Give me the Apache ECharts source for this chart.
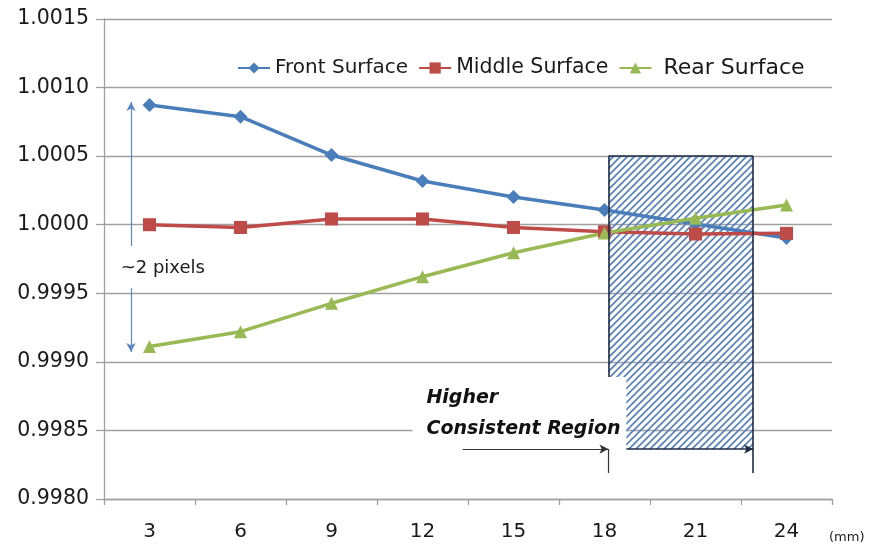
<!DOCTYPE html>
<html>
<head>
<meta charset="utf-8">
<script src="https://cdn.jsdelivr.net/npm/echarts@6/dist/echarts.min.js"></script>
<style>html,body{margin:0;padding:0;background:#fff}#c{width:878px;height:550px}</style>
</head>
<body>
<div id="c"></div>
<script>
// ---- data ----
const categories = ['3', '6', '9', '12', '15', '18', '21', '24'];
const frontSurface  = [1.000873, 1.000788, 1.000508, 1.000319, 1.000202, 1.000107, 1.000005, 0.999903];
const middleSurface = [1.000000, 0.999980, 1.000042, 1.000042, 0.999980, 0.999949, 0.999932, 0.999937];
const rearSurface   = [0.999112, 0.999220, 0.999427, 0.999621, 0.999796, 0.999940, 1.000047, 1.000144];
const yTicks = [0.9980, 0.9985, 0.9990, 0.9995, 1.0000, 1.0005, 1.0010, 1.0015];
// annotation positions in data units (hidden value x-axis 1.5..25.5)
const regionX = [18.13, 22.9];
const regionNotchX = 18.72;
const regionTop = 1.0005;
const regionLeftEnd = 0.99889;
const regionBottom = 0.998364;
const regionTickEnd = 0.99819;
const arrowStartX = 13.32;
const textBoxX = [11.67, 18.72];
const textBoxY = [0.998350, 0.99889];
const spanArrowX = 2.39;
const spanUpper = [0.999845, 1.000895];
const spanLower = [0.999538, 0.999072];

const FONT = 'DejaVu Sans';

// hatch pattern
const tile = document.createElement('canvas');
tile.width = 7; tile.height = 7;
const tc = tile.getContext('2d');
tc.strokeStyle = '#5580bd';
tc.lineWidth = 1.6;
tc.beginPath();
tc.moveTo(-1, 8); tc.lineTo(8, -1);
tc.moveTo(-4.5, 4.5); tc.lineTo(4.5, -4.5);
tc.moveTo(2.5, 11.5); tc.lineTo(11.5, 2.5);
tc.stroke();

const chart = echarts.init(document.getElementById('c'), null, {renderer: 'canvas'});
const option = {
  animation: false,
  backgroundColor: '#ffffff',
  textStyle: {fontFamily: FONT},
  grid: {left: 104, right: 46, top: 19, bottom: 51, containLabel: false},
  legend: {
    left: 232, top: 52,
    itemWidth: 32, itemHeight: 14, itemGap: 10,
    textStyle: {fontFamily: FONT, fontSize: 20, color: '#1a1a1a'},
    data: [
      {name: 'Front Surface'},
      {name: 'Middle Surface', textStyle: {fontSize: 20.5}},
      {name: 'Rear Surface', textStyle: {fontSize: 22, padding: [0, 0, 0, 7]}}
    ]
  },
  xAxis: [
    {
      type: 'category', data: categories, boundaryGap: true,
      axisLine: {lineStyle: {color: '#a0a0a0', width: 1.3}},
      axisTick: {show: true, length: 6, lineStyle: {color: '#a0a0a0', width: 1.3}},
      axisLabel: {fontFamily: FONT, fontSize: 20, color: '#1a1a1a', margin: 23},
      name: '(mm)', nameLocation: 'end', nameGap: -3,
      nameTextStyle: {fontFamily: FONT, fontSize: 13, color: '#1a1a1a', align: 'left', verticalAlign: 'top', padding: [32, 0, 0, 0]}
    },
    {type: 'value', min: 1.5, max: 25.5, show: false}
  ],
  yAxis: {
    type: 'value', min: yTicks[0], max: yTicks[yTicks.length - 1], interval: 0.0005,
    axisLine: {show: true, lineStyle: {color: '#a0a0a0', width: 1.3}},
    axisTick: {show: true, length: 8, lineStyle: {color: '#a0a0a0', width: 1.3}},
    splitLine: {lineStyle: {color: '#a0a0a0', width: 1.3}},
    axisLabel: {fontFamily: FONT, fontSize: 20.5, color: '#1a1a1a', margin: 15,
      formatter: v => v.toFixed(4)}
  },
  series: [
    {
      name: 'Front Surface', type: 'line', data: frontSurface, z: 3,
      symbol: 'diamond', symbolSize: 14,
      lineStyle: {color: '#4a7ebb', width: 3.5}, itemStyle: {color: '#4a7ebb'}
    },
    {
      name: 'Middle Surface', type: 'line', data: middleSurface, z: 3,
      symbol: 'rect', symbolSize: 13,
      lineStyle: {color: '#be4b48', width: 3.5}, itemStyle: {color: '#be4b48'}
    },
    {
      name: 'Rear Surface', type: 'line', data: rearSurface, z: 3,
      symbol: 'triangle', symbolSize: 13,
      lineStyle: {color: '#98b954', width: 3.5}, itemStyle: {color: '#98b954'}
    },
    {
      name: 'hatch', type: 'line', xAxisIndex: 1, data: [], silent: true,
      markArea: {
        silent: true, z: 1,
        itemStyle: {color: {image: tile, repeat: 'repeat'}, borderWidth: 0, opacity: 1},
        data: [[{coord: [regionX[0], regionTop]}, {coord: [regionX[1], regionBottom]}]]
      }
    },
    {
      name: 'textbox', type: 'line', xAxisIndex: 1, data: [], silent: true,
      markArea: {
        silent: true, z: 1.5,
        itemStyle: {color: '#ffffff', borderWidth: 0, opacity: 1},
        data: [[{coord: [textBoxX[0], textBoxY[1]]}, {coord: [textBoxX[1], textBoxY[0]]}]]
      },
      markPoint: {
        silent: true, z: 6, symbol: 'circle', symbolSize: 0,
        label: {show: true, position: 'right', distance: 0, color: '#111',
          fontFamily: FONT, fontSize: 19, fontWeight: 'bold', fontStyle: 'italic', lineHeight: 31,
          formatter: 'Higher\nConsistent Region'},
        data: [{coord: [12.13, 0.99862]}]
      }
    },
    {
      name: 'borders', type: 'line', xAxisIndex: 1, data: [], silent: true,
      markLine: {
        silent: true, z: 4, symbol: 'none', symbolSize: [7, 9],
        label: {show: false},
        lineStyle: {color: '#1f2b44', width: 1.6, type: 'solid'},
        data: [
          [{coord: [regionX[0], regionTop]}, {coord: [regionX[1], regionTop]}],
          [{coord: [regionX[0], regionTop]}, {coord: [regionX[0], regionLeftEnd]}],
          [{coord: [regionX[1], regionTop]}, {coord: [regionX[1], regionTickEnd]}],
          [{coord: [regionNotchX, regionBottom], symbol: 'none'}, {coord: [regionX[1], regionBottom], symbol: 'arrow'}],
          [{coord: [arrowStartX, regionBottom], symbol: 'none', lineStyle: {color: '#333333', width: 1.2}}, {coord: [regionX[0], regionBottom], symbol: 'arrow'}],
          [{coord: [regionX[0], regionBottom], lineStyle: {color: '#333333', width: 1.2}}, {coord: [regionX[0], regionTickEnd]}]
        ]
      }
    },
    {
      name: 'span', type: 'line', xAxisIndex: 1, data: [], silent: true,
      markLine: {
        silent: true, z: 4, symbol: 'none', symbolSize: [7, 9],
        label: {show: false},
        lineStyle: {color: '#5a8ac6', width: 1.2, type: 'solid'},
        data: [
          [{coord: [spanArrowX, spanUpper[0]], symbol: 'none'}, {coord: [spanArrowX, spanUpper[1]], symbol: 'arrow'}],
          [{coord: [spanArrowX, spanLower[0]], symbol: 'none'}, {coord: [spanArrowX, spanLower[1]], symbol: 'arrow'}]
        ]
      },
      markPoint: {
        silent: true, z: 6, symbol: 'circle', symbolSize: 0,
        label: {show: true, position: 'right', distance: 0, color: '#1a1a1a',
          fontFamily: FONT, fontSize: 18, formatter: '~2 pixels'},
        data: [{coord: [2.05, 0.999684]}]
      }
    }
  ]
};
chart.setOption(option);
</script>
</body>
</html>
